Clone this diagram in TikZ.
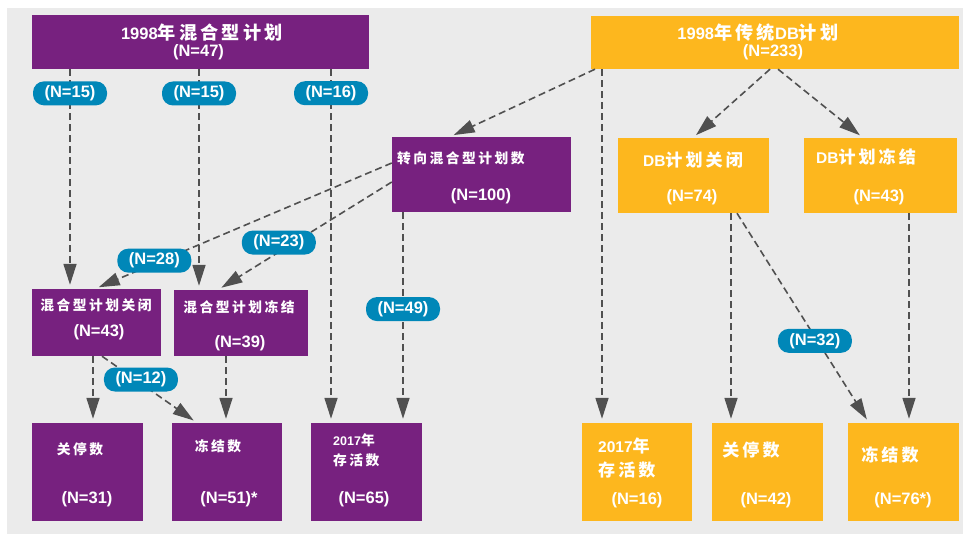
\documentclass[tikz,border=0pt]{standalone}
\usepackage{fontspec}
\setmainfont{Liberation Sans}
\newfontfamily\cjk{Noto Sans CJK SC}[Scale=1.1, LetterSpace=18]
\newcommand\cj[1]{{\cjk #1}}
\usetikzlibrary{positioning,arrows.meta,calc}

\definecolor{plum}{HTML}{77217F}
\definecolor{amber}{HTML}{FDB71E}
\definecolor{pillblue}{HTML}{0087B8}
\definecolor{arrgray}{HTML}{505050}
\definecolor{bggray}{HTML}{EBEBEB}

\begin{document}
\begin{tikzpicture}[x=1pt, y=-1pt, font=\bfseries,
  pbox/.style={fill=plum, inner sep=0pt},
  obox/.style={fill=amber, inner sep=0pt},
  lbl/.style={text=white, inner sep=0pt},
  big/.style={lbl, font=\fontsize{16.5}{16.5}\selectfont\bfseries},
  small/.style={lbl, font=\fontsize{12.5}{20}\selectfont\bfseries},
  mid/.style={lbl, font=\fontsize{15.5}{24}\selectfont\bfseries},
  cnt/.style={lbl, font=\fontsize{16.5}{16.5}\selectfont\bfseries},
  pill/.style={fill=pillblue, text=white, rounded corners=11pt, minimum width=74pt, minimum height=24pt, inner sep=0pt, font=\fontsize{16.5}{16.5}\selectfont\bfseries},
  arr/.style={draw=arrgray, line width=1.6pt, dash pattern=on 7pt off 4pt, -{Triangle[length=21pt,width=13pt]}, shorten >=4pt}]
% background
\fill[white] (0,0) rectangle (963,534);
\fill[bggray] (7,8) rectangle (963,534);

% hybrid side
\node[pbox, minimum width=337pt, minimum height=54pt] (hyb98) at (200.5,42) {};
\node[big] (hyb98t) at (202,33) {1998\cj{年混合型计划}};
\node[cnt] (hyb98n) at (198.5,52) {(N=47)};
\node[pbox, minimum width=179pt, minimum height=75pt] (conv) at (481.5,174.5) {};
\node[small, anchor=west] (convt) at (397,158) {\cj{转向混合型计划数}};
\node[cnt] (convn) at (481,196) {(N=100)};
\node[pbox, minimum width=129pt, minimum height=67pt] (hybclose) at (96.5,322.5) {};
\node[small] (hybcloset) at (96,305) {\cj{混合型计划关闭}};
\node[cnt] (hybclosen) at (99,332) {(N=43)};
\node[pbox, minimum width=134pt, minimum height=66pt] (hybfreeze) at (241,323) {};
\node[small] (hybfreezet) at (239,307) {\cj{混合型计划冻结}};
\node[cnt] (hybfreezen) at (240,343) {(N=39)};
\node[pbox, minimum width=111pt, minimum height=98pt] (pshut) at (87.5,472) {};
\node[small] (pshutt) at (80,449) {\cj{关停数}};
\node[cnt] (pshutn) at (87,499) {(N=31)};
\node[pbox, minimum width=110pt, minimum height=98pt] (pfreeze) at (227,472) {};
\node[small] (pfreezet) at (218,446) {\cj{冻结数}};
\node[cnt] (pfreezen) at (229,499) {(N=51)*};
\node[pbox, minimum width=111pt, minimum height=98pt] (palive) at (366.5,472) {};
\node[small, anchor=west, align=left] (palivet) at (333,450) {2017\cj{年}\\\cj{存活数}};
\node[cnt] (paliven) at (364,499) {(N=65)};

% DB side
\node[obox, minimum width=368pt, minimum height=53pt] (db98) at (775,42.5) {};
\node[big] (db98t) at (758,33) {1998\cj{年传统}DB\cj{计划}};
\node[cnt] (db98n) at (773,52) {(N=233)};
\node[obox, minimum width=151pt, minimum height=75pt] (dbclose) at (693.5,175.5) {};
\node[mid] (dbcloset) at (693,160) {DB\cj{计划关闭}};
\node[cnt] (dbclosen) at (692,197) {(N=74)};
\node[obox, minimum width=153pt, minimum height=75pt] (dbfreeze) at (880.5,175.5) {};
\node[mid] (dbfreezet) at (866,157) {DB\cj{计划冻结}};
\node[cnt] (dbfreezen) at (879,197) {(N=43)};
\node[obox, minimum width=110pt, minimum height=98pt] (oalive) at (637,472) {};
\node[mid, anchor=west, align=left] (oalivet) at (598,458) {2017\cj{年}\\\cj{存活数}};
\node[cnt] (oaliven) at (637,500) {(N=16)};
\node[obox, minimum width=111pt, minimum height=98pt] (oshut) at (767.5,472) {};
\node[mid] (oshutt) at (751,450) {\cj{关停数}};
\node[cnt] (oshutn) at (766,500) {(N=42)};
\node[obox, minimum width=111pt, minimum height=98pt] (ofreeze) at (903.5,472) {};
\node[mid] (ofreezet) at (890,455) {\cj{冻结数}};
\node[cnt] (ofreezen) at (903,500) {(N=76*)};

% connectors
\draw[arr] ([xshift=-130.5pt]hyb98.south) -- node[pill, pos=0.11]{(N=15)} ([xshift=-26.5pt]hybclose.north);
\draw[arr] ([xshift=-1.5pt]hyb98.south) -- node[pill, pos=0.11]{(N=15)} ([xshift=-42pt]hybfreeze.north);
\draw[arr] ([xshift=130.5pt]hyb98.south) -- node[pill, pos=0.068]{(N=16)} ([xshift=-35.5pt]palive.north);
\draw[arr] ([yshift=11.5pt]conv.west) -- node[pill, pos=0.8, yshift=3pt]{(N=28)} ([xshift=-1.5pt]hybclose.north);
\draw[arr] ([yshift=-7.5pt]conv.west) -- node[pill, pos=0.65, yshift=9.5pt]{(N=23)} ([xshift=-23pt]hybfreeze.north);
\draw[arr] ([xshift=-78.5pt]conv.south) -- node[pill, pos=0.46]{(N=49)} ([xshift=36.5pt]palive.north);
\draw[arr] ([xshift=-3.5pt]hybclose.south) -- ([xshift=5.5pt]pshut.north);
\draw[arr] ([xshift=5.5pt]hybclose.south) -- node[pill, pos=0.41, yshift=4pt]{(N=12)} ([xshift=-30pt]pfreeze.north);
\draw[arr] ([xshift=-15pt]hybfreeze.south) -- ([xshift=-1pt]pfreeze.north);
\draw[arr] ([xshift=-180pt]db98.south) -- ([xshift=-31.5pt]conv.north);
\draw[arr] ([xshift=-173pt]db98.south) -- ([xshift=-35pt]oalive.north);
\draw[arr] ([xshift=-5pt]db98.south) -- ([xshift=-0.5pt]dbclose.north);
\draw[arr] ([xshift=3pt]db98.south) -- ([xshift=-17.5pt]dbfreeze.north);
\draw[arr] ([xshift=37.5pt]dbclose.south) -- ([xshift=-36.5pt]oshut.north);
\draw[arr] ([xshift=43.5pt]dbclose.south) -- node[pill, pos=0.59, yshift=-4pt]{(N=32)} ([xshift=-34.5pt]ofreeze.north);
\draw[arr] ([xshift=28.5pt]dbfreeze.south) -- ([xshift=5.5pt]ofreeze.north);
\end{tikzpicture}
\end{document}
